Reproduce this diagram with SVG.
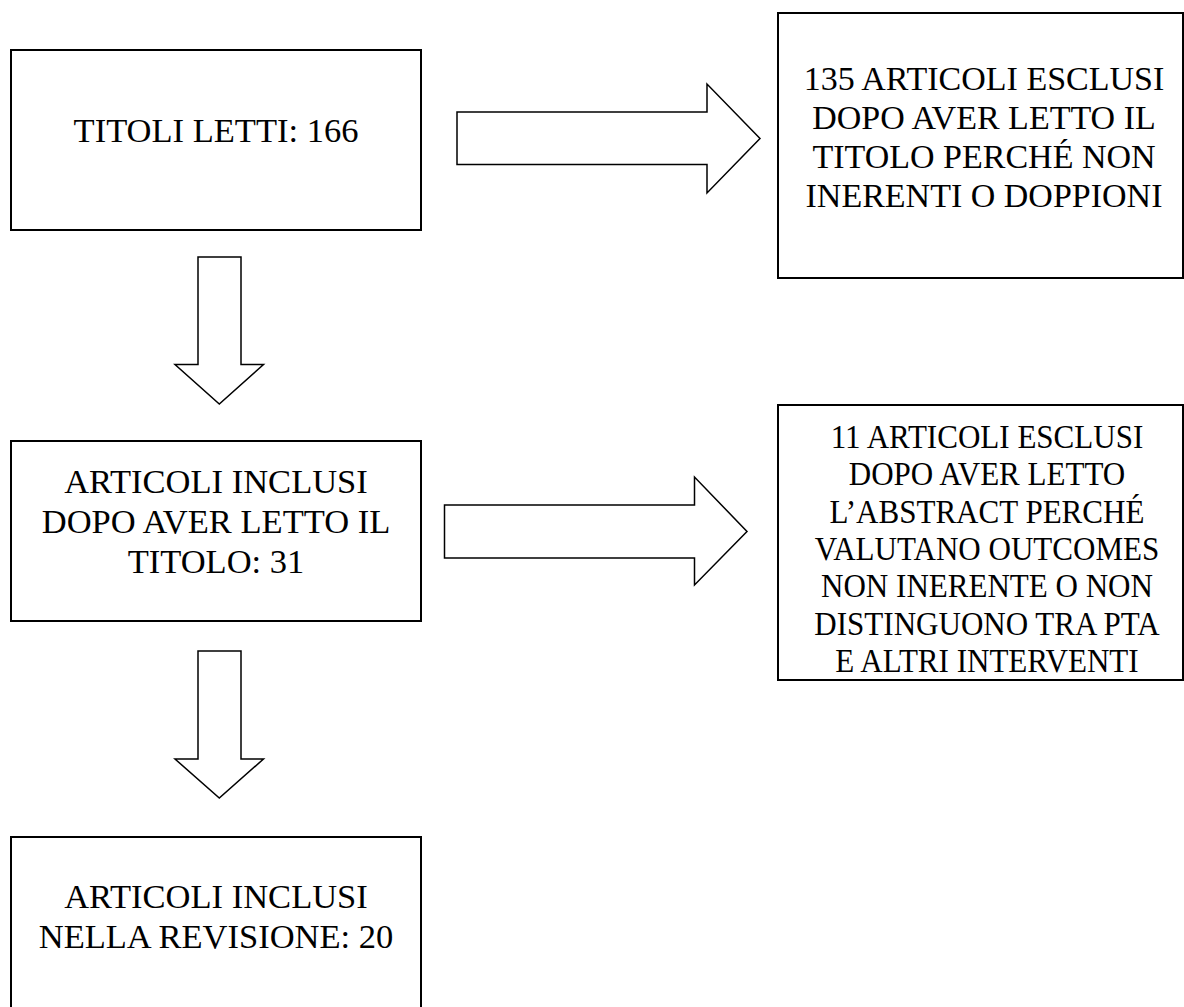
<svg xmlns="http://www.w3.org/2000/svg" width="1184" height="1007" viewBox="0 0 1184 1007">
<style>
.box{fill:#fff;stroke:#000;stroke-width:2}
.arr{fill:#fff;stroke:#000;stroke-width:1.5;stroke-linejoin:miter}
.t{font-family:"Liberation Serif","Times New Roman",serif;font-size:34.5px;fill:#000;text-anchor:middle}
.tr{font-size:34px}
</style>
<rect width="1184" height="1007" fill="#fff"/>
<g id="connectors">
<polygon id="a1" class="arr" points="198,257 241,257 241,364.5 263.5,364.5 219.3,404 175,364.5 198,364.5"/>
<polygon id="a2" class="arr" points="198,651 241,651 241,759 263.5,759 219.3,798 175,759 198,759"/>
<polygon id="a3" class="arr" points="457,112 707,112 707,84 760,138.5 707,193 707,164.5 457,164.5"/>
<polygon id="a4" class="arr" points="444.5,505 694.5,505 694.5,477 747,531.5 694.5,585 694.5,558 444.5,558"/>
</g>
<g id="n1">
<rect class="box" x="11" y="50" width="410" height="180"/>
<text class="t" x="216" y="142">TITOLI LETTI: 166</text>
</g>
<g id="n2">
<rect class="box" x="11" y="441" width="410" height="180"/>
<text class="t" x="216" y="493">ARTICOLI INCLUSI</text>
<text class="t" x="216" y="533">DOPO AVER LETTO IL</text>
<text class="t" x="216" y="573">TITOLO: 31</text>
</g>
<g id="n3">
<rect class="box" x="11" y="837" width="410" height="185"/>
<text class="t" x="216" y="908">ARTICOLI INCLUSI</text>
<text class="t" x="216" y="948">NELLA REVISIONE: 20</text>
</g>
<g id="n4">
<rect class="box" x="778" y="13" width="405" height="265"/>
<text class="t tr" x="984" y="90">135 ARTICOLI ESCLUSI</text>
<text class="t tr" x="984" y="129">DOPO AVER LETTO IL</text>
<text class="t tr" x="984" y="168">TITOLO PERCHÉ NON</text>
<text class="t tr" x="984" y="207">INERENTI O DOPPIONI</text>
</g>
<g id="n5">
<rect class="box" x="778" y="405" width="405" height="275"/>
<g transform="translate(987,0) scale(0.9,1)">
<text class="t" x="0" y="448">11 ARTICOLI ESCLUSI</text>
<text class="t" x="0" y="485.3">DOPO AVER LETTO</text>
<text class="t" x="0" y="522.6">L’ABSTRACT PERCHÉ</text>
<text class="t" x="0" y="560">VALUTANO OUTCOMES</text>
<text class="t" x="0" y="597.3">NON INERENTE O NON</text>
<text class="t" x="0" y="634.6">DISTINGUONO TRA PTA</text>
<text class="t" x="0" y="672">E ALTRI INTERVENTI</text>
</g>
</g>
</svg>
